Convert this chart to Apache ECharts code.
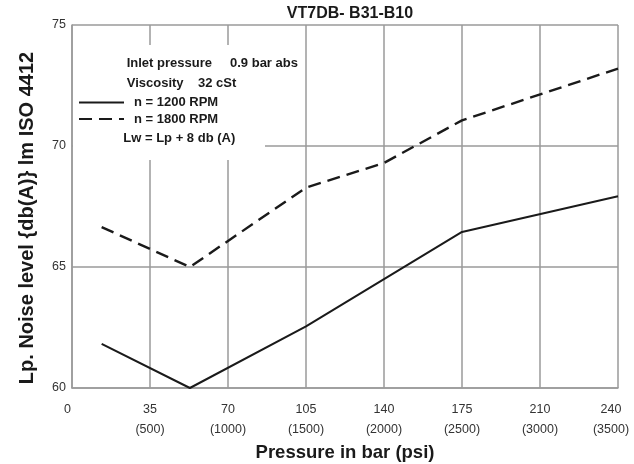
<!DOCTYPE html>
<html>
<head>
<meta charset="utf-8">
<script src="https://cdn.jsdelivr.net/npm/echarts@6/dist/echarts.min.js"></script>
<style>
html,body{margin:0;padding:0;background:#fff;}
#chart{width:634px;height:464px;}
</style>
</head>
<body>
<div id="chart"></div>
<script>
// ---- data ----
var chartTitle = 'VT7DB- B31-B10';
var xTickValues = [0, 35, 70, 105, 140, 175, 210, 245];
var barLabels = ['0', '35', '70', '105', '140', '175', '210', '240'];
var psiLabels = ['', '(500)', '(1000)', '(1500)', '(2000)', '(2500)', '(3000)', '(3500)'];
var yTicks = [60, 65, 70, 75];

var series1200Name = 'n = 1200 RPM';
var series1200X = [13.3, 52.9, 105, 175, 245];
var series1200Y = [61.82, 60.0, 62.55, 66.45, 67.92];

var series1800Name = 'n = 1800 RPM';
var series1800X = [13.3, 52.9, 105, 140, 175, 245];
var series1800Y = [66.65, 65.0, 68.28, 69.3, 71.06, 73.2];

var noteLines = ['Inlet pressure     0.9 bar abs', 'Viscosity    32 cSt', 'Lw = Lp + 8 db (A)'];
var xAxisTitle = 'Pressure in bar (psi)';
var yAxisTitle = 'Lp. Noise level {db(A)} lm ISO 4412';

function pairs(xs, ys) {
  return xs.map(function (x, i) { return [x, ys[i]]; });
}

var chart = echarts.init(document.getElementById('chart'), null, {renderer: 'canvas'});
var gridColor = '#9a9a9a';
var labelColor = '#333';
var fontFam = '"Liberation Sans", Arial, Helvetica, sans-serif';

var option = {
  backgroundColor: '#fff',
  animation: false,
  title: {
    text: chartTitle,
    left: 345,
    textAlign: 'center',
    top: 1,
    textStyle: {fontSize: 16, fontWeight: 'bold', color: '#1a1a1a', fontFamily: fontFam}
  },
  grid: {left: 72, top: 25, width: 546, height: 363, containLabel: false, outerBoundsMode: 'none'},
  xAxis: {
    type: 'value',
    min: 0,
    max: 245,
    interval: 35,
    name: xAxisTitle,
    nameLocation: 'middle',
    nameGap: 55,
    nameMoveOverlap: false,
    nameTextStyle: {fontSize: 18.5, fontWeight: 'bold', color: '#1a1a1a', fontFamily: fontFam},
    axisLine: {show: true, lineStyle: {color: gridColor, width: 1.5}},
    axisTick: {show: false},
    splitLine: {show: true, lineStyle: {color: gridColor, width: 1.5}},
    axisLabel: {
      margin: 12,
      formatter: function (v) {
        var i = xTickValues.indexOf(Math.round(v));
        if (i < 0) return '';
        if (i === 0) return '{z|' + barLabels[i] + '}';
        var key = (i === xTickValues.length - 1) ? 'e' : 'a';
        return '{' + key + '|' + barLabels[i] + '}\n{' + key + '|' + psiLabels[i] + '}';
      },
      rich: {
        a: {fontSize: 12.5, lineHeight: 20, color: labelColor, fontFamily: fontFam},
        z: {fontSize: 12.5, lineHeight: 20, color: labelColor, fontFamily: fontFam, padding: [0, 9, 0, 0]},
        e: {fontSize: 12.5, lineHeight: 20, color: labelColor, fontFamily: fontFam, padding: [0, 14, 0, 0]}
      }
    }
  },
  yAxis: {
    type: 'value',
    min: yTicks[0],
    max: yTicks[yTicks.length - 1],
    interval: 5,
    axisLine: {show: true, lineStyle: {color: gridColor, width: 1.5}},
    axisTick: {show: false},
    splitLine: {show: true, lineStyle: {color: gridColor, width: 1.5}},
    axisLabel: {margin: 6, fontSize: 12.5, color: labelColor, fontFamily: fontFam}
  },
  legend: {
    orient: 'vertical',
    left: 73,
    top: 91,
    padding: 5,
    itemWidth: 45,
    itemHeight: 14,
    itemGap: 3.6,
    z: 6,
    itemStyle: {opacity: 0},
    textStyle: {fontSize: 13, fontWeight: 'bold', color: '#1a1a1a', fontFamily: fontFam, padding: [0, 0, 0, 5]},
    data: [series1200Name, series1800Name]
  },
  series: [
    {
      name: series1200Name,
      type: 'line',
      data: pairs(series1200X, series1200Y),
      showSymbol: false,
      symbol: 'none',
      clip: false,
      lineStyle: {color: '#1a1a1a', width: 2, type: 'solid'},
      itemStyle: {color: '#1a1a1a'}
    },
    {
      name: series1800Name,
      type: 'line',
      data: pairs(series1800X, series1800Y),
      showSymbol: false,
      symbol: 'none',
      clip: false,
      lineStyle: {color: '#1a1a1a', width: 2.4, type: [13, 7]},
      itemStyle: {color: '#1a1a1a'}
    }
  ],
  graphic: [
    {type: 'rect', z: 1, shape: {x: 73, y: 45, width: 192, height: 115}, style: {fill: '#fff'}},
    {type: 'text', z: 6, x: 126.7, y: 63.3, style: {text: noteLines[0], font: 'bold 13px ' + fontFam, fill: '#1a1a1a', textVerticalAlign: 'middle', verticalAlign: 'middle'}},
    {type: 'text', z: 6, x: 126.7, y: 83.3, style: {text: noteLines[1], font: 'bold 13px ' + fontFam, fill: '#1a1a1a', textVerticalAlign: 'middle', verticalAlign: 'middle'}},
    {type: 'text', z: 6, x: 123.3, y: 138.3, style: {text: noteLines[2], font: 'bold 13px ' + fontFam, fill: '#1a1a1a', textVerticalAlign: 'middle', verticalAlign: 'middle'}},
    {type: 'text', z: 6, x: 27, y: 218, rotation: Math.PI / 2, style: {text: yAxisTitle, font: 'bold 20px ' + fontFam, fill: '#1a1a1a', align: 'center', verticalAlign: 'middle', textAlign: 'center', textVerticalAlign: 'middle'}}
  ]
};
chart.setOption(option);
</script>
</body>
</html>
